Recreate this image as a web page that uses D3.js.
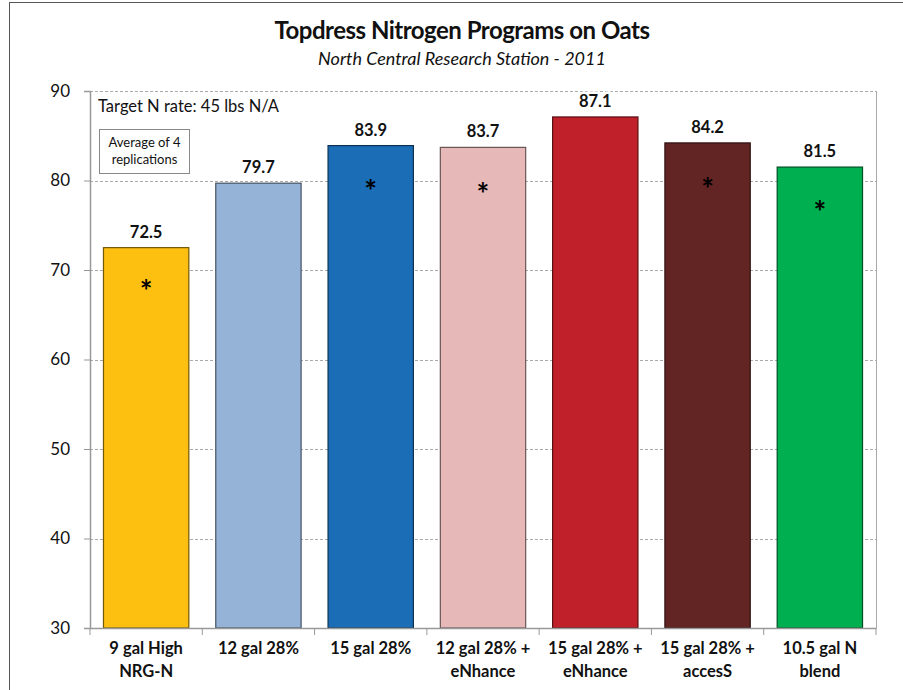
<!DOCTYPE html>
<html>
<head>
<meta charset="utf-8">
<script src="https://cdn.jsdelivr.net/npm/d3@7"></script>
<style>
  body { margin: 0; background: #fff; }
  text { font-family: Lato, "Open Sans", sans-serif; }
</style>
</head>
<body>
<div id="chart"></div>
<script>
// chart values
const programs = [
  ["9 gal High", "NRG-N"],
  ["12 gal 28%"],
  ["15 gal 28%"],
  ["12 gal 28% +", "eNhance"],
  ["15 gal 28% +", "eNhance"],
  ["15 gal 28% +", "accesS"],
  ["10.5 gal N", "blend"]
];
const yields = [72.5, 79.7, 83.9, 83.7, 87.1, 84.2, 81.5];
const barColors = ["#FDC010", "#95B3D7", "#1B6EB5", "#E6B9B8", "#C0202A", "#632523", "#00B050"];
// where the significance star sits (in y units), null = no star
const starAt = [68.7, null, 79.85, 79.5, null, 80.1, 77.5];
const yTicks = [30, 40, 50, 60, 70, 80, 90];

const width = 903, height = 690;
const margin = { top: 91, right: 27, bottom: 62, left: 90 };

const svg = d3.select("#chart").append("svg")
  .attr("width", width)
  .attr("height", height);

// outer frame
svg.append("rect")
  .attr("x", 9.5).attr("y", 2.5)
  .attr("width", 910).attr("height", 700)
  .attr("fill", "none")
  .attr("stroke", "#555")
  .attr("stroke-width", 1);

const x = d3.scaleBand()
  .domain(d3.range(programs.length))
  .range([margin.left, width - margin.right])
  .paddingInner(0.24)
  .paddingOuter(0.12);

const y = d3.scaleLinear()
  .domain([30, 90])
  .range([height - margin.bottom, margin.top]);

// gridlines
svg.append("g")
  .selectAll("line")
  .data(yTicks)
  .enter().append("line")
  .attr("x1", margin.left).attr("x2", width - margin.right)
  .attr("y1", d => Math.round(y(d)) + 0.5).attr("y2", d => Math.round(y(d)) + 0.5)
  .attr("stroke", "#aaa")
  .attr("stroke-dasharray", "3,2");

// right border of plot area
svg.append("line")
  .attr("x1", width - margin.right + 0.5).attr("x2", width - margin.right + 0.5)
  .attr("y1", margin.top).attr("y2", height - margin.bottom)
  .attr("stroke", "#aaa");

// bars
svg.append("g")
  .selectAll("rect")
  .data(yields)
  .enter().append("rect")
  .attr("x", (d, i) => x(i))
  .attr("y", d => y(d))
  .attr("width", x.bandwidth())
  .attr("height", d => y(30) - y(d))
  .attr("fill", (d, i) => barColors[i])
  .attr("stroke", (d, i) => d3.color(barColors[i]).darker(2.2))
  .attr("stroke-width", 1.2);

// y axis
const yAxis = svg.append("g")
  .attr("transform", `translate(${margin.left},0)`)
  .call(d3.axisLeft(y).tickValues(yTicks).tickSize(6).tickPadding(14));
yAxis.select(".domain").attr("stroke", "#999").attr("stroke-width", 1.5);
yAxis.selectAll(".tick line").attr("stroke", "#999");
yAxis.selectAll(".tick text")
  .attr("font-size", 17)
  .attr("fill", "#111")
  .style("font-family", "Lato, sans-serif");

// x axis
const xAxis = svg.append("g")
  .attr("transform", `translate(0,${y(30)})`)
  .call(d3.axisBottom(x).tickSize(0).tickFormat(""));
xAxis.select(".domain").attr("stroke", "#999").attr("stroke-width", 1.5);

const bounds = d3.range(programs.length + 1).map(i => margin.left + i * (width - margin.right - margin.left) / programs.length);
svg.append("g")
  .selectAll("line")
  .data(bounds)
  .enter().append("line")
  .attr("x1", d => d).attr("x2", d => d)
  .attr("y1", y(30)).attr("y2", y(30) + 7)
  .attr("stroke", "#999");

// category labels
const catLabels = svg.append("g")
  .selectAll("text")
  .data(programs)
  .enter().append("text")
  .attr("x", (d, i) => x(i) + x.bandwidth() / 2)
  .attr("y", 654)
  .attr("text-anchor", "middle")
  .attr("font-size", 16.5)
  .attr("font-weight", "bold")
  .attr("fill", "#111");
catLabels.selectAll("tspan")
  .data(d => d)
  .enter().append("tspan")
  .attr("x", function () { return d3.select(this.parentNode).attr("x"); })
  .attr("dy", (d, i) => i === 0 ? 0 : 23)
  .text(d => d);

// value labels
svg.append("g")
  .selectAll("text")
  .data(yields)
  .enter().append("text")
  .attr("x", (d, i) => x(i) + x.bandwidth() / 2)
  .attr("y", d => y(d) - 10)
  .attr("text-anchor", "middle")
  .attr("font-size", 16.5)
  .attr("font-weight", "bold")
  .attr("fill", "#111")
  .attr("stroke", "#fff")
  .attr("stroke-width", 5)
  .style("paint-order", "stroke")
  .text(d => d.toFixed(1));

// stars
svg.append("g")
  .selectAll("text")
  .data(starAt.map((s, i) => ({ s, i })).filter(d => d.s !== null))
  .enter().append("text")
  .attr("x", d => x(d.i) + x.bandwidth() / 2)
  .attr("y", d => y(d.s) + 20)
  .attr("text-anchor", "middle")
  .attr("font-size", 30)
  .attr("font-weight", "bold")
  .attr("fill", "#000")
  .text("*");

// titles
svg.append("text")
  .attr("x", 462).attr("y", 39)
  .attr("text-anchor", "middle")
  .attr("font-size", 24)
  .attr("font-weight", "bold")
  .attr("letter-spacing", -0.5)
  .attr("fill", "#111")
  .text("Topdress Nitrogen Programs on Oats");

svg.append("text")
  .attr("x", 462).attr("y", 65)
  .attr("text-anchor", "middle")
  .attr("font-size", 18)
  .attr("font-style", "italic")
  .attr("fill", "#111")
  .text("North Central Research Station  - 2011");

// annotations
svg.append("text")
  .attr("x", 98).attr("y", 112)
  .attr("font-size", 16.5)
  .attr("fill", "#111")
  .text("Target N rate: 45 lbs N/A");

svg.append("rect")
  .attr("x", 99.5).attr("y", 129.5)
  .attr("width", 90).attr("height", 44)
  .attr("fill", "#fff")
  .attr("stroke", "#888");

svg.append("text")
  .attr("x", 144.5).attr("y", 147)
  .attr("text-anchor", "middle")
  .attr("font-size", 13)
  .attr("fill", "#111")
  .selectAll("tspan")
  .data(["Average of 4", "replications"])
  .enter().append("tspan")
  .attr("x", 144.5)
  .attr("dy", (d, i) => i === 0 ? 0 : 17)
  .text(d => d);
</script>
</body>
</html>
